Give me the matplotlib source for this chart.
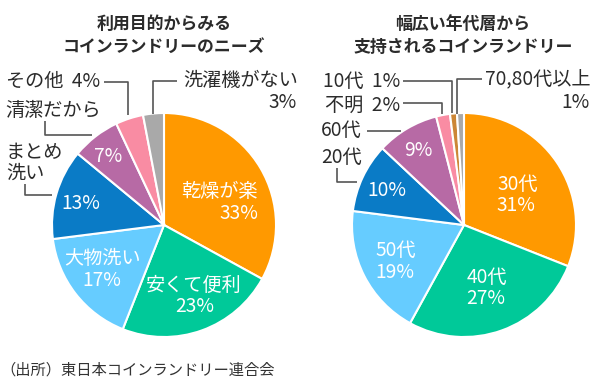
import matplotlib.pyplot as plt

plt.rcParams['font.family'] = ['Noto Sans CJK JP', 'DejaVu Sans']

#### Data
purpose_labels = ['乾燥が楽', '安くて便利', '大物洗い', 'まとめ洗い', '清潔だから', 'その他', '洗濯機がない']
purpose_values = [33, 23, 17, 13, 7, 4, 3]

age_labels = ['30代', '40代', '50代', '20代', '60代', '不明', '10代', '70,80代以上']
age_values = [31, 27, 19, 10, 9, 2, 1, 1]

purpose_colors = ['#ff9900', '#00c999', '#66ccff', '#0a7bc6', '#b76aa5', '#f98ca3', '#a9a9a9']
age_colors = ['#ff9900', '#00c999', '#66ccff', '#0a7bc6', '#b76aa5', '#f98ca3', '#cc8636', '#a9a9a9']

W, H = 599, 389
TXT = '#2b2b2b'
LINE = '#555555'
FS = 13.8


def py(y):
    # pixel row (from top) -> data y
    return H - y


fig = plt.figure(figsize=(W / 100, H / 100), dpi=100)
ax = fig.add_axes([0, 0, 1, 1])

wp = dict(edgecolor='white', linewidth=1.5)
ax.pie(purpose_values, colors=purpose_colors, startangle=90, counterclock=False,
       center=(164, py(225)), radius=112, wedgeprops=wp)
ax.pie(age_values, colors=age_colors, startangle=90, counterclock=False,
       center=(464, py(225)), radius=112, wedgeprops=wp)

ax.set_xlim(0, W)
ax.set_ylim(0, H)
ax.set_aspect('equal')
ax.axis('off')


def txt(x, y, s, ha='center', color=TXT, size=FS, **kw):
    ax.text(x, py(y), s, ha=ha, va='center', color=color, fontsize=size, **kw)


def leader(pts):
    xs = [p[0] for p in pts]
    ys = [py(p[1]) for p in pts]
    ax.plot(xs, ys, color=LINE, lw=1.2, solid_capstyle='butt')


#### Titles
txt(164, 24, '利用目的からみる', size=12.2, fontweight='bold')
txt(164, 47, 'コインランドリーのニーズ', size=12.2, fontweight='bold')
txt(463, 24, '幅広い年代層から', size=12.2, fontweight='bold')
txt(463, 47, '支持されるコインランドリー', size=12.2, fontweight='bold')

#### Left pie labels (inside)
WH = 'white'
txt(219, 191, purpose_labels[0], color=WH)
txt(258, 213, f'{purpose_values[0]}%', ha='right', color=WH)
txt(194, 285, purpose_labels[1], color=WH)
txt(195, 307, f'{purpose_values[1]}%', color=WH)
txt(102, 258, purpose_labels[2], color=WH)
txt(102, 280, f'{purpose_values[2]}%', color=WH)
txt(81, 203, f'{purpose_values[3]}%', color=WH)
txt(108, 156, f'{purpose_values[4]}%', color=WH)

#### Left pie labels (outside)
txt(6, 152, 'まとめ', ha='left')
txt(6, 173, '洗い', ha='left')
txt(5, 110, purpose_labels[4], ha='left')
txt(100, 81, f'{purpose_labels[5]}  {purpose_values[5]}%', ha='right')
txt(183, 80, purpose_labels[6], ha='left')
txt(297, 102, f'{purpose_values[6]}%', ha='right')

leader([(25, 184), (25, 195), (52, 195)])
leader([(45, 121), (45, 135), (92, 135)])
leader([(104, 82), (128, 82), (128, 115)])
leader([(153, 114), (153, 81), (177, 81)])

#### Right pie labels (inside)
txt(518, 184, age_labels[0], color=WH)
txt(516, 205, f'{age_values[0]}%', color=WH)
txt(487, 277, age_labels[1], color=WH)
txt(486, 299, f'{age_values[1]}%', color=WH)
txt(396, 250, age_labels[2], color=WH)
txt(395, 273, f'{age_values[2]}%', color=WH)
txt(387, 190, f'{age_values[3]}%', color=WH)
txt(418, 150, f'{age_values[4]}%', color=WH)

#### Right pie labels (outside)
txt(362, 157, age_labels[3], ha='right')
txt(362, 130, age_labels[4], ha='right')
txt(400, 105, f'{age_labels[5]}  {age_values[5]}%', ha='right')
txt(400, 81, f'{age_labels[6]}  {age_values[6]}%', ha='right')
txt(485, 80, age_labels[7], ha='left')
txt(590, 102, f'{age_values[7]}%', ha='right')

leader([(337, 168), (337, 182), (357, 182)])
leader([(367, 131), (401, 131)])
leader([(403, 103), (442, 103), (442, 114)])
leader([(403, 81), (452, 81), (452, 113)])
leader([(457, 114), (457, 79), (482, 79)])

#### Source
txt(0, 370, '（出所）東日本コインランドリー連合会', ha='left', size=11, color='#333333')

fig.savefig('out.png', dpi=100)
